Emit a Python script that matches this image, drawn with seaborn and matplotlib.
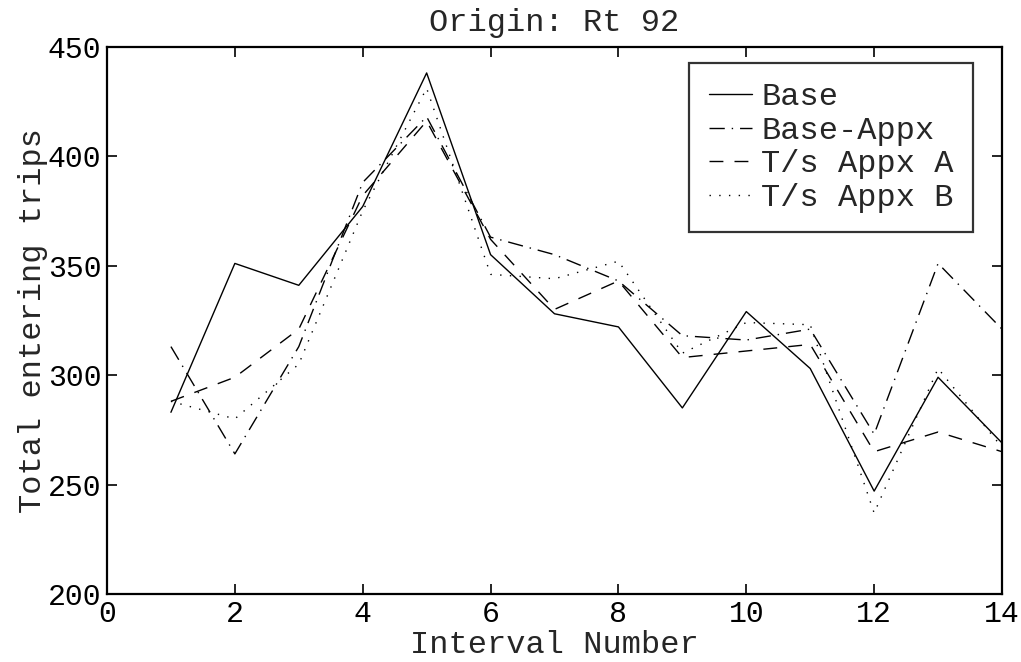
import matplotlib
matplotlib.use("Agg")
import matplotlib.pyplot as plt
import seaborn as sns
import pandas as pd

# Interval numbers and entering-trip totals for each scenario
intervals = list(range(1, 15))
base = [283, 351, 341, 377, 438, 355, 328, 322, 285, 329, 303, 247, 299, 269]
base_appx = [313, 264, 313, 388, 418, 363, 355, 343, 318, 316, 321, 273, 351, 321]
appx_a = [288, 299, 321, 382, 416, 362, 330, 343, 308, 311, 314, 265, 274, 265]
appx_b = [288, 280, 305, 375, 431, 346, 344, 352, 310, 324, 323, 237, 303, 267]

series_names = ["Base", "Base-Appx", "T/s Appx A", "T/s Appx B"]
series_values = [base, base_appx, appx_a, appx_b]

df = pd.concat(
    [pd.DataFrame({"Interval": intervals, "Trips": vals, "Scenario": name})
     for name, vals in zip(series_names, series_values)],
    ignore_index=True,
)

sns.set_style("ticks")
plt.rcParams["font.family"] = ["Liberation Mono", "DejaVu Sans Mono"]

fig = plt.figure(figsize=(10.21, 6.62), dpi=100)
ax = fig.add_axes([0.1048, 0.1027, 0.8766, 0.8268])

line_styles = {
    "Base": "",
    "Base-Appx": (11, 5, 1, 5),
    "T/s Appx A": (10, 8),
    "T/s Appx B": (1, 6),
}

sns.lineplot(
    data=df, x="Interval", y="Trips", hue="Scenario", style="Scenario",
    palette=["black"] * 4, dashes=line_styles, markers=False,
    linewidth=1.0, ax=ax, legend=True,
)

ax.set_xlim(0, 14)
ax.set_ylim(200, 450)
ax.set_xticks(range(0, 15, 2))
ax.set_yticks(range(200, 451, 50))

tick_fs = 21.5
fs = 23
ax.tick_params(direction="in", top=True, right=True, length=7, width=1.2,
               labelsize=tick_fs, pad=4, colors="black")
for s in ax.spines.values():
    s.set_visible(True)
    s.set_linewidth(1.6)
    s.set_color("black")

ax.set_xlabel("Interval Number", fontsize=fs, labelpad=2)
ax.set_ylabel("Total entering trips", fontsize=fs, labelpad=0)
ax.set_title("Origin: Rt 92", fontsize=fs, pad=11)

leg = ax.legend(
    loc="upper right", bbox_to_anchor=(0.9676, 0.970), borderaxespad=0,
    fontsize=fs, frameon=True, fancybox=False, handlelength=1.35,
    handletextpad=0.3, labelspacing=0.11, borderpad=0.6, title=None,
)
leg.get_frame().set_edgecolor("black")
leg.get_frame().set_linewidth(1.6)
for h in leg.get_lines():
    h.set_linewidth(1.0)

fig.savefig("out.png", dpi=100, facecolor="white")
